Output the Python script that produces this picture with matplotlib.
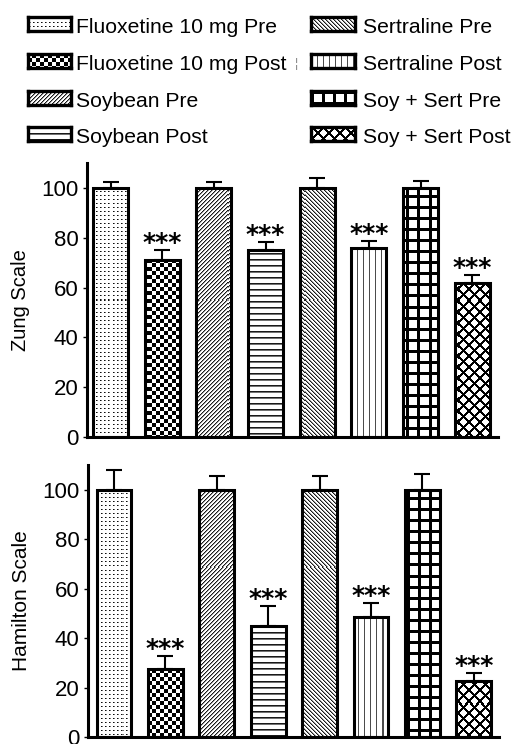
import numpy as np
import matplotlib
matplotlib.use("Agg")
import matplotlib.pyplot as plt

plt.rcParams['font.family'] = ['Liberation Sans', 'DejaVu Sans']

# data
labels = ["Fluoxetine 10 mg Pre", "Fluoxetine 10 mg Post", "Soybean Pre", "Soybean Post",
          "Sertraline Pre", "Sertraline Post", "Soy + Sert Pre", "Soy + Sert Post"]
patterns = ["dots", "checker", "fdiag", "hlines", "bdiag", "vlines", "grid", "diamond"]
zung_mean = [100, 71, 100, 75, 100, 76, 100, 62]
zung_err = [2.5, 4.0, 2.5, 3.3, 3.9, 2.7, 2.8, 3.0]
ham_mean = [100, 27.3, 100, 44.9, 100, 48.5, 100, 22.7]
ham_err = [8.0, 5.4, 5.4, 8.0, 5.6, 5.7, 6.3, 3.0]
signif = [False, True, False, True, False, True, False, True]

W, H = 513, 744


def pattern_img(kind, h, w):
    yy, xx = np.mgrid[0:h, 0:w]
    img = np.ones((h, w))
    if kind == "dots":
        img[(xx % 4 == 2) & (yy % 4 == 1)] = 0.45
        img[(xx % 4 == 1) & (yy % 4 == 1)] = 0.05
    elif kind == "checker":
        img[((xx // 4) + (yy // 4)) % 2 == 1] = 0.0
    elif kind == "fdiag":
        img[(xx + yy) % 4 == 0] = 0.1
        img[(xx + yy) % 4 == 1] = 0.6
    elif kind == "bdiag":
        img[(xx - yy) % 4 == 0] = 0.1
        img[(xx - yy) % 4 == 1] = 0.6
    elif kind == "hlines":
        img[yy % 6 == 0] = 0.1
        img[yy % 6 == 1] = 0.45
    elif kind == "vlines":
        img[xx % 6 == 0] = 0.3
    elif kind == "grid":
        img[(xx % 11 < 3) | (yy % 11 < 3)] = 0.0
    elif kind == "diamond":
        img[((xx + yy) % 11 < 3) | ((xx - yy) % 11 < 3)] = 0.0
    return img


def px_axes(l, r, b, t):
    return fig.add_axes([l / W, 1 - b / H, (r - l) / W, (b - t) / H])


def panel(ax, means, errs, ylabel, xlim, label_size):
    x = np.arange(len(means))
    ax.set_xlim(*xlim)
    ax.set_ylim(0, 110)
    bars = ax.bar(x, means, width=0.68, color="white", edgecolor="none", zorder=1)
    hpx, wpx = int(round(ax.bbox.height)), int(round(ax.bbox.width))
    for b, kind in zip(bars, patterns):
        im = ax.imshow(pattern_img(kind, hpx, wpx), cmap="gray", vmin=0, vmax=1,
                       extent=(xlim[0], xlim[1], 0, 110), aspect="auto",
                       interpolation="nearest", zorder=2)
        im.set_clip_path(b)
    ax.bar(x, means, width=0.68, fill=False, edgecolor="black", linewidth=2.2, zorder=3)
    ax.errorbar(x, means, yerr=[np.zeros(len(errs)), errs], fmt="none", ecolor="black",
                elinewidth=1.5, capsize=6, capthick=1.5, zorder=2.5)
    for xi, m, e, s in zip(x, means, errs, signif):
        if s:
            ax.text(xi, m + e, "***", ha="center", va="baseline", fontsize=18,
                    family="DejaVu Sans", fontweight="bold", zorder=4)
    ax.set_xlim(*xlim)
    ax.set_ylim(0, 110)
    ax.set_yticks([0, 20, 40, 60, 80, 100])
    ax.set_xticks([])
    ax.tick_params(axis="y", labelsize=16, length=3, width=1, pad=3)
    for side in ["top", "right"]:
        ax.spines[side].set_visible(False)
    for side in ["left", "bottom"]:
        ax.spines[side].set_linewidth(2.2)
    ax.set_ylabel(ylabel, fontsize=label_size, labelpad=8)


fig = plt.figure(figsize=(W / 100, H / 100), dpi=100)

ax1 = px_axes(87, 498, 437, 163)
panel(ax1, zung_mean, zung_err, "Zung Scale", (-0.455, 7.5), 14.5)

ax2 = px_axes(88, 499, 737, 465)
panel(ax2, ham_mean, ham_err, "Hamilton Scale", (-0.506, 7.49), 15)

# legend drawn as small swatches + text
rows_base = [33, 70, 107, 143]
cols = [(28, 71, 76), (311, 355, 363)]
for i, (lab, kind) in enumerate(zip(labels, patterns)):
    c = cols[i // 4]
    base = rows_base[i % 4]
    top, bot = base - 16, base - 2
    sw = px_axes(c[0], c[1], bot, top)
    sw.imshow(pattern_img(kind, bot - top, c[1] - c[0]), cmap="gray", vmin=0, vmax=1,
              extent=(0, 1, 0, 1), aspect="auto", interpolation="nearest")
    sw.set_xticks([])
    sw.set_yticks([])
    for s in sw.spines.values():
        s.set_linewidth(2.4)
    fig.text(c[2] / W, 1 - base / H, lab, fontsize=15.2, ha="left", va="baseline")

fig.text(296 / W, 1 - 67 / H, "\u00a6", fontsize=9, color="0.5", ha="center", va="baseline")

fig.savefig("out.png", dpi=100)
